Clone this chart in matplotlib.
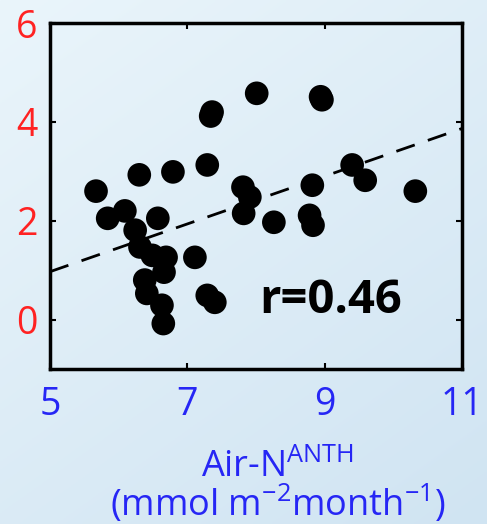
import numpy as np
import matplotlib.pyplot as plt

plt.rcParams['font.family'] = ['Open Sans', 'DejaVu Sans']
plt.rcParams['mathtext.fontset'] = 'custom'
plt.rcParams['mathtext.rm'] = 'Open Sans'

# Anthropogenic atmospheric N deposition vs. response
air_n = [5.67, 5.84, 6.09, 6.30, 6.57, 6.79, 7.11, 7.29, 7.34, 7.36,
         8.01, 8.96, 8.94, 7.81, 7.91, 7.82, 8.26, 8.82, 8.78, 8.83,
         9.40, 9.59, 10.32, 7.29, 7.40,
         6.24, 6.31, 6.49, 6.69, 6.66, 6.38, 6.41, 6.63, 6.65]
resp = [2.60, 2.05, 2.20, 2.93, 2.05, 2.99, 1.26, 3.13, 4.12, 4.20,
        4.58, 4.45, 4.51, 2.68, 2.48, 2.15, 1.97, 2.72, 2.11, 1.91,
        3.13, 2.82, 2.60, 0.49, 0.35,
        1.81, 1.47, 1.30, 1.26, 0.96, 0.80, 0.53, 0.29, -0.08]

# linear fit shown as dashed line
fit_slope = 0.483
fit_intercept = -1.445
r_value = 0.46

xticks = [5, 7, 9, 11]
yticks = [0, 2, 4, 6]

fig = plt.figure(figsize=(4.87, 5.24), dpi=100)

# soft blue gradient background
bg = fig.add_axes([0, 0, 1, 1], zorder=-1)
gx, gy = np.meshgrid(np.linspace(0, 1, 200), np.linspace(0, 1, 200))
grad = 0.6 * gy + 0.4 * gx
c_top = np.array([234, 245, 251]) / 255
c_bot = np.array([208, 228, 242]) / 255
img = c_top[None, None, :] * (1 - grad[..., None]) + c_bot[None, None, :] * grad[..., None]
bg.imshow(img, extent=[0, 1, 0, 1], aspect='auto', origin='upper')
bg.axis('off')

ax = fig.add_axes([0.1027, 0.2958, 0.846, 0.660])
ax.set_facecolor('none')

ax.scatter(air_n, resp, s=290, color='black', edgecolors='none', zorder=3)

xs = np.array([5, 11])
ax.plot(xs, fit_intercept + fit_slope * xs, color='black', lw=2,
        dashes=(7, 5), zorder=2)

ax.text(9.08, 0.39, f'r={r_value:.2f}', fontsize=34, fontweight='bold',
        ha='center', va='center')

ax.set_xlim(5, 11)
ax.set_ylim(-1, 6)
ax.set_xticks(xticks)
ax.set_yticks(yticks)
ax.tick_params(direction='in', length=4, width=1.5, top=True, right=True,
               labelsize=27)
ax.tick_params(axis='x', colors='#2626f5', pad=12)
ax.tick_params(axis='y', colors='#ff2222', pad=9)
ax.tick_params(axis='both', color='black')
for sp in ax.spines.values():
    sp.set_linewidth(2.5)

ax.set_xlabel('Air-N$^{\\mathregular{ANTH}}$\n(mmol m$^{\\mathregular{-2}}$month$^{\\mathregular{-1}}$)',
              fontsize=26, color='#2626f5', labelpad=19, linespacing=0.9)
ax.xaxis.label.set_x(0.553)

plt.savefig('out.png', dpi=100)
